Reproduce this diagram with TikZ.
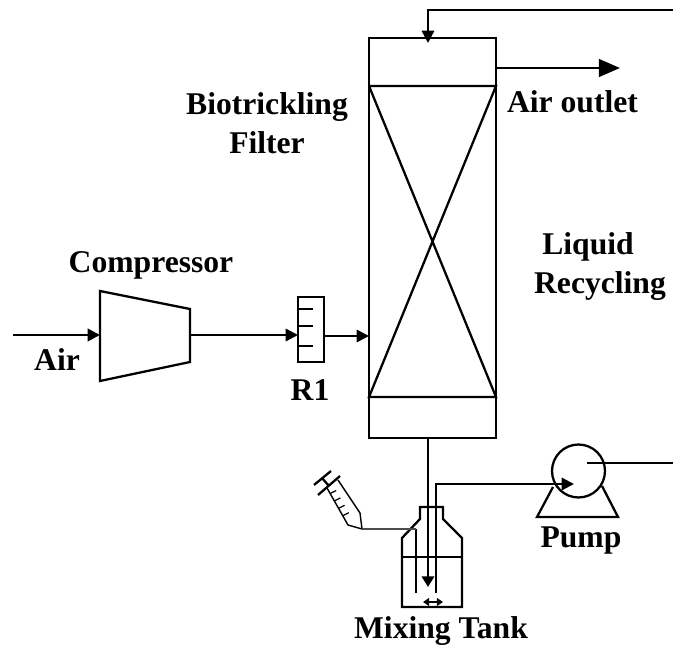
\documentclass[tikz,border=0pt]{standalone}
\usepackage{fontspec}
\setmainfont{Liberation Serif}
\usetikzlibrary{arrows.meta,calc}

\begin{document}
\begin{tikzpicture}[x=0.02cm,y=-0.02cm,line width=1.3pt,
  mylabel/.style={font=\fontsize{18}{21}\selectfont\bfseries,inner sep=0pt,align=center},
  myunit/.style={draw,inner sep=0pt,outer sep=0pt},
  myflow/.style={-{Triangle[length=7pt,width=7pt]}}]
\useasboundingbox (0,0) rectangle (673,648);

% column
\node [myunit,minimum width=2.54cm,minimum height=8cm] (column) at (432.5,238) {};
\coordinate (bedtl) at (369,86);
\coordinate (bedtr) at (496,86);
\coordinate (bedbl) at (369,397);
\coordinate (bedbr) at (496,397);
\draw (bedtl) -- (bedtr) -- (bedbl) -- (bedbr) -- (bedtl);

% compressor and rotameter
\coordinate (cin) at (100,335);
\coordinate (cout) at (190,335);
\draw (100,291) -- (190,309) -- (190,362) -- (100,381) -- cycle;
\node [myunit,minimum width=0.52cm,minimum height=1.3cm] (rone) at (311,329.5) {};
\foreach \pos in {309,326,346}
  {\draw (298,\pos) -- (313,\pos);}

% pump
\node [myunit,circle,minimum size=1.06cm] (pump) at (578.5,471) {};
\coordinate (pbl) at (553,487);
\coordinate (pl) at (537,517);
\coordinate (pr) at (618,517);
\coordinate (pbr) at (602,486);
\draw (pbl) -- (pl) -- (pr) -- (pbr);
\coordinate (pumpin) at (574,484);
\coordinate (pumpout) at (587,463);

% mixing tank
\draw (420,519) -- (420,507) -- (443,507) -- (443,519) -- (462,538) -- (462,607)
  -- (402,607) -- (402,538) -- cycle;
\draw (402,557) -- (462,557);
\coordinate (tubein) at (416,529);
\coordinate (tubeend) at (416,593);
\coordinate (retend) at (436,593);
\coordinate (tankend) at (428,587);
\draw (tubein) -- (tubeend);
\draw [{Triangle[length=3.5pt,width=4.5pt]}-{Triangle[length=3.5pt,width=4.5pt]}] (423,602) -- (443,602);

% syringe
\coordinate (syrtip) at (362,529);
\draw (314,485) -- (331,471);
\draw (318,495) -- (340,476);
\draw (322,478) -- (329,486);
\draw [line width=0.8pt] (327,488) -- (348,525) -- (syrtip) -- (360,513) -- (338,480);
\foreach \tick in {0.15,0.35,0.55,0.75}
  {\draw [line width=0.7pt] ($(327,488)!\tick!(348,525)$) -- ++(6,-3);}
\draw [line width=0.9pt,black!70] (syrtip) -- (tubein);

% pipes
\coordinate (topin) at (673,10);
\coordinate (topturn) at (428,10);
\coordinate (coltop) at (428,43);
\coordinate (outa) at (496,68);
\coordinate (outb) at (620,68);
\coordinate (airin) at (13,335);
\coordinate (colbot) at (428,438);
\coordinate (retturn) at (436,484);
\coordinate (recout) at (673,463);
\coordinate (colin) at (369,336);
\coordinate (roneout) at (324,336);
\coordinate (ronein) at (298,335);

\draw [myflow] (topin) -- (topturn) -- (coltop);
\draw [-{Triangle[length=12pt,width=10pt]},line width=1.5pt] (outa) -- (outb);
\draw [myflow,line width=1.6pt] (airin) -- (cin);
\draw [myflow] (cout) -- (ronein);
\draw [myflow] (roneout) -- (colin);
\draw [-{Triangle[length=6pt,width=7pt]}] (colbot) -- (tankend);
\draw [myflow] (retend) -- (retturn) -- (pumpin);
\draw (pumpout) -- (recout);

% labels
\node [mylabel] (filterlabel) at (267,123) {Biotrickling\\[1pt]Filter};
\node [mylabel] (outlabel) at (572.5,102) {Air outlet};
\node [mylabel] (liquidlabel) at (588,247) {Liquid};
\node [mylabel] (recyclelabel) at (600,286) {Recycling};
\node [mylabel] (complabel) at (151,265) {Compressor};
\node [mylabel] (airlabel) at (57,360) {Air};
\node [mylabel] (ronelabel) at (310,390) {R1};
\node [mylabel] (pumplabel) at (581,541) {Pump};
\node [mylabel] (tanklabel) at (441,631) {Mixing Tank};
\end{tikzpicture}
\end{document}
